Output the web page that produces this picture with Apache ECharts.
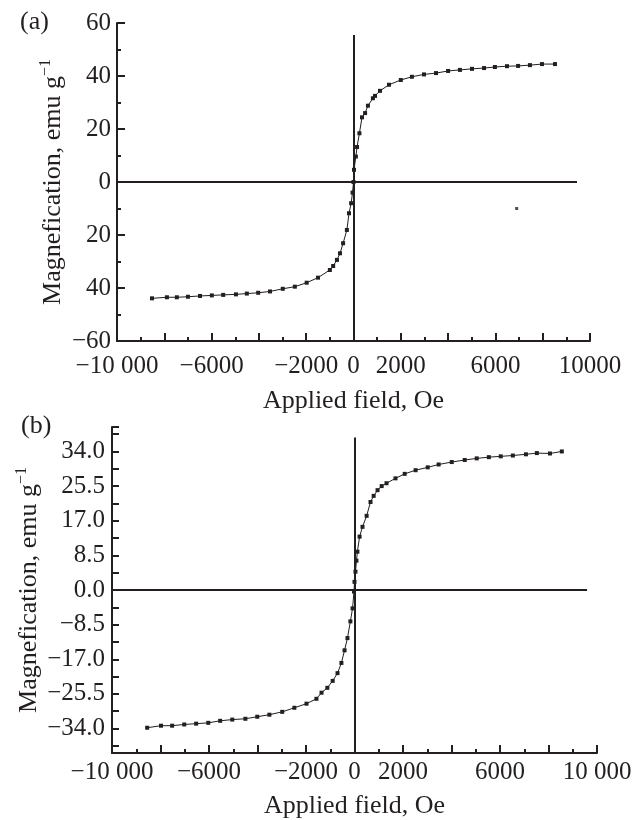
<!DOCTYPE html>
<html>
<head>
<meta charset="utf-8">
<script src="https://cdn.jsdelivr.net/npm/echarts@6/dist/echarts.min.js"></script>
<style>
  html, body { margin: 0; padding: 0; background: #fff; }
  #chart { width: 635px; height: 820px; }
</style>
</head>
<body>
<div id="chart"></div>
<script>
// (a) magnetisation loop
var fieldA = [-8520, -7890, -7470, -7000, -6490, -5990, -5510, -4970, -4510, -4030,
  -3530, -2990, -2480, -1980, -1500, -1000, -860, -700, -570, -440,
  -280, -190, -100, -40, 0, 20, 100, 150, 250, 360,
  490, 610, 820, 910, 1120, 1500, 2000, 2470, 2980, 3490,
  4000, 4500, 5010, 5520, 5980, 6490, 6960, 7460, 7970, 8520];
var magA = [-43.9, -43.5, -43.5, -43.3, -43.0, -42.8, -42.6, -42.4, -42.1, -41.8,
  -41.3, -40.3, -39.5, -38.0, -36.1, -33.2, -31.7, -29.4, -26.9, -23.1,
  -18.1, -11.8, -8.0, -4.0, 0, 4.6, 9.6, 13.2, 18.4, 24.4,
  26.0, 28.8, 31.6, 32.5, 34.4, 36.7, 38.5, 39.7, 40.6, 41.1,
  41.9, 42.3, 42.7, 43.0, 43.4, 43.7, 43.8, 44.1, 44.5, 44.5];
var strayA = [[6900, -10]];

// (b) magnetisation loop
var fieldB = [-8550, -7980, -7520, -7020, -6530, -6030, -5540, -5040, -4500, -4010,
  -3510, -2980, -2480, -1980, -1570, -1360, -1120, -900, -700, -540,
  -410, -290, -170, -80, -20, 0, 40, 80, 120, 210,
  330, 500, 660, 790, 950, 1120, 1320, 1690, 2070, 2520,
  3020, 3470, 4010, 4545, 5040, 5540, 6030, 6530, 7070, 7520,
  8060, 8550];
var magB = [-33.8, -33.3, -33.3, -33.0, -32.8, -32.6, -32.1, -31.8, -31.6, -31.1,
  -30.6, -29.9, -28.9, -27.9, -26.7, -25.2, -24.0, -22.3, -20.4, -17.9,
  -14.8, -11.8, -7.7, -4.5, -0.4, 2.0, 4.5, 7.2, 9.4, 13.1,
  15.5, 18.2, 21.6, 23.1, 24.5, 25.5, 26.2, 27.4, 28.5, 29.4,
  30.1, 30.8, 31.4, 31.9, 32.3, 32.6, 32.8, 33.0, 33.3, 33.6,
  33.5, 34.0];

// tick labels
var xLabelValues = [-10000, -6000, -2000, 0, 2000, 6000, 10000];
var xLabelTextA = ['\u221210 000', '\u22126000', '\u22122000', '0', '2000', '6000', '10000'];
var xLabelTextB = ['\u221210 000', '\u22126000', '\u22122000', '0', '2000', '6000', '10 000'];
var yLabelValuesA = [-60, -40, -20, 0, 20, 40, 60];
var yLabelTextA = ['\u221260', '40', '20', '0', '20', '40', '60'];
var yLabelValuesB = [-34, -25.5, -17, -8.5, 0, 8.5, 17, 25.5, 34];
var yTickValuesB = [-40, -38.25, -34, -29.75, -25.5, -21.25, -17, -12.75, -8.5, -4.25, 0,
  4.25, 8.5, 12.75, 17, 21.25, 25.5, 29.75, 34, 38.25, 40];

// where the two zero lines stop
var zeroLineA = { xEnd: 9450, yTop: 55.5, yBottom: -60 };
var zeroLineB = { xEnd: 9590, yTop: 37.4, yBottom: -40 };

var ink = '#231f20';
var font = 'Liberation Serif';

function pairs(xs, ys) {
  return xs.map(function (x, i) { return [x, ys[i]]; });
}

function xLabel(texts) {
  return function (v) {
    var i = xLabelValues.indexOf(v);
    return i < 0 ? '' : texts[i];
  };
}

function zeroLines(z) {
  return {
    silent: true,
    symbol: 'none',
    label: { show: false },
    lineStyle: { color: ink, width: 2, type: 'solid' },
    data: [
      [{ coord: [-10000, 0] }, { coord: [z.xEnd, 0] }],
      [{ coord: [0, z.yBottom] }, { coord: [0, z.yTop] }]
    ]
  };
}

var yName = 'Magnefication, emu g{sup|\u22121}';
var yNameStyle = {
  color: ink, fontFamily: font, fontSize: 26, lineHeight: 30,
  rich: { sup: { fontSize: 16, lineHeight: 30, verticalAlign: 'top', fontFamily: font, color: ink } }
};
var xNameStyle = { color: ink, fontFamily: font, fontSize: 26 };

var axisLineStyle = { show: true, onZero: false, lineStyle: { color: ink, width: 2 } };
var labelStyle = { color: ink, fontFamily: font, fontSize: 25 };

var chart = echarts.init(document.getElementById('chart'));

var option = {
  animation: false,
  backgroundColor: '#fff',
  graphic: [
    { type: 'text', left: 20, top: 9, style: { text: '(a)', fill: ink, font: '26px "Liberation Serif"' } },
    { type: 'text', left: 21, top: 413, style: { text: '(b)', fill: ink, font: '26px "Liberation Serif"' } }
  ],
  grid: [
    { left: 117, top: 23, width: 473, height: 318 },
    { left: 112, top: 427, width: 485, height: 327 }
  ],
  xAxis: [{
    gridIndex: 0, type: 'value', min: -10000, max: 10000, interval: 2000,
    name: 'Applied field, Oe', nameLocation: 'middle', nameGap: 47,
    nameTextStyle: xNameStyle,
    axisLine: axisLineStyle,
    axisTick: { inside: true, length: 8, lineStyle: { color: ink, width: 2 } },
    minorTick: { show: true, splitNumber: 2, length: 4, lineStyle: { color: ink, width: 2 } },
    axisLabel: Object.assign({ margin: 13, formatter: xLabel(xLabelTextA) }, labelStyle),
    splitLine: { show: false }
  }, {
    gridIndex: 1, type: 'value', min: -10000, max: 10000, interval: 2000,
    name: 'Applied field, Oe', nameLocation: 'middle', nameGap: 40,
    nameTextStyle: xNameStyle,
    axisLine: axisLineStyle,
    axisTick: { inside: true, length: 8, lineStyle: { color: ink, width: 2 } },
    minorTick: { show: true, splitNumber: 2, length: 4, lineStyle: { color: ink, width: 2 } },
    axisLabel: Object.assign({ margin: 7, formatter: xLabel(xLabelTextB) }, labelStyle),
    splitLine: { show: false }
  }],
  yAxis: [{
    gridIndex: 0, type: 'value', min: -60, max: 60, interval: 20,
    name: yName, nameLocation: 'middle', nameGap: 49, nameMoveOverlap: false,
    nameTextStyle: yNameStyle,
    axisLine: axisLineStyle,
    axisTick: { inside: true, length: 8, lineStyle: { color: ink, width: 2 } },
    minorTick: { show: true, splitNumber: 2, length: 4, lineStyle: { color: ink, width: 2 } },
    axisLabel: Object.assign({
      margin: 6,
      formatter: function (v) { return yLabelTextA[yLabelValuesA.indexOf(v)]; }
    }, labelStyle),
    splitLine: { show: false }
  }, {
    gridIndex: 1, type: 'value', min: -40, max: 40,
    name: yName, nameLocation: 'middle', nameGap: 68, nameMoveOverlap: false,
    nameTextStyle: yNameStyle,
    axisLine: axisLineStyle,
    axisTick: { inside: true, length: 7, customValues: yTickValuesB, lineStyle: { color: ink, width: 2 } },
    axisLabel: Object.assign({
      margin: 7,
      customValues: yLabelValuesB,
      formatter: function (v) { return v.toFixed(1).replace('-', '\u2212'); }
    }, labelStyle),
    splitLine: { show: false }
  }],
  series: [{
    type: 'line', xAxisIndex: 0, yAxisIndex: 0,
    data: pairs(fieldA, magA),
    symbol: 'rect', symbolSize: 4,
    lineStyle: { color: ink, width: 1 },
    itemStyle: { color: ink },
    markLine: zeroLines(zeroLineA),
    z: 3
  }, {
    type: 'scatter', xAxisIndex: 0, yAxisIndex: 0,
    data: strayA, symbol: 'rect', symbolSize: 3,
    itemStyle: { color: ink }
  }, {
    type: 'line', xAxisIndex: 1, yAxisIndex: 1,
    data: pairs(fieldB, magB),
    symbol: 'rect', symbolSize: 4,
    lineStyle: { color: ink, width: 1 },
    itemStyle: { color: ink },
    markLine: zeroLines(zeroLineB),
    z: 3
  }]
};

chart.setOption(option);
</script>
</body>
</html>
